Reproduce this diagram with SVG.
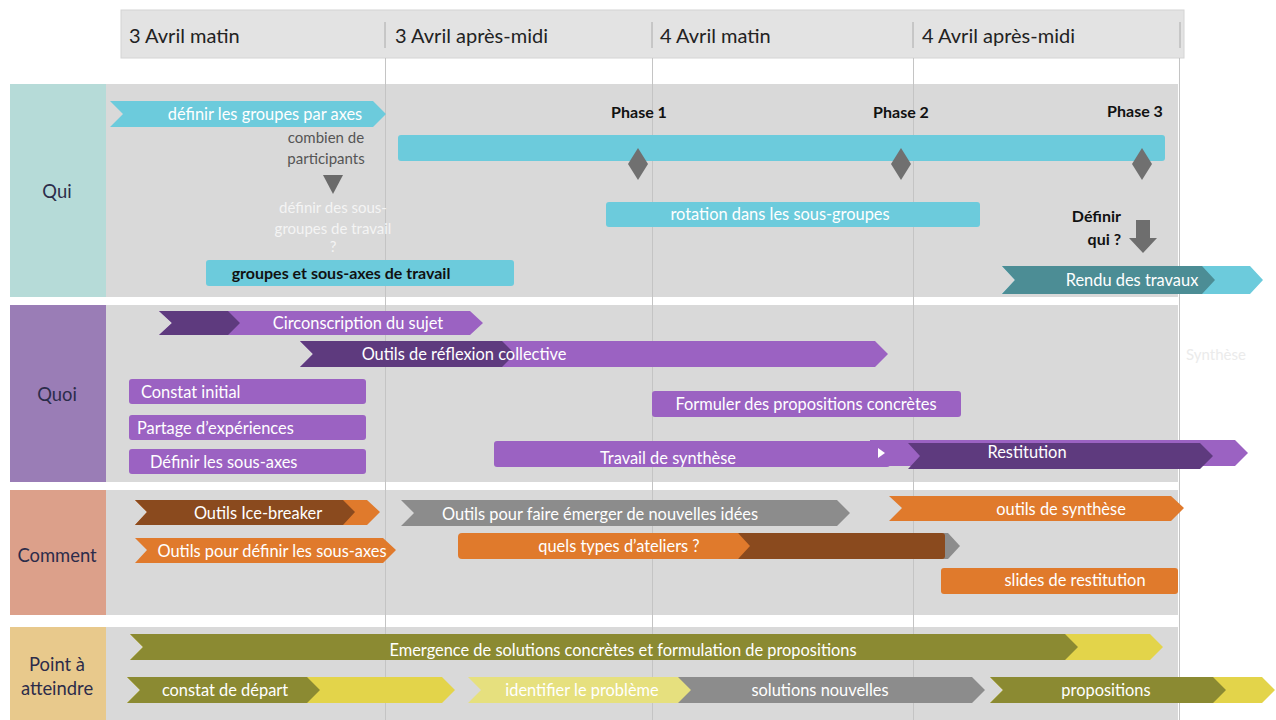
<svg xmlns="http://www.w3.org/2000/svg" width="1276" height="720" viewBox="0 0 1276 720">
<style>
text{font-family:Lato,"Liberation Sans",sans-serif;}
.hd{font-size:20px;fill:#222;}
.lb{font-size:18.4px;fill:#2c2c4a;text-anchor:middle;}
.w{font-size:16.4px;fill:#fff;text-anchor:middle;}
.wl{font-size:16.4px;fill:#fff;}
.bk{font-size:16px;fill:#111;font-weight:bold;text-anchor:middle;}
.ph{font-size:16px;fill:#111;font-weight:bold;text-anchor:middle;}
.dg{font-size:15px;fill:#555;text-anchor:middle;}
.ft{font-size:15px;fill:#f4f4f4;text-anchor:middle;}
.row{fill:#d9d9d9;}
.vl{stroke:#c4c4c4;stroke-width:1;}
.teal{fill:#6ccbdc;}
.dteal{fill:#4c8d95;}
.lp{fill:#9b62c2;}
.dp{fill:#5e3a7e;}
.or{fill:#e07a2c;}
.br{fill:#8a4a1e;}
.gr{fill:#8c8c8c;}
.ol{fill:#8b8a32;}
.ye{fill:#e3d44a;}
.ly{fill:#e6e07e;}
.dia{fill:#707070;}
</style>
<rect width="1276" height="720" fill="#fff"/>
<g id="header">
<rect x="121" y="10" width="1063" height="48" fill="#e3e3e3" stroke="#d4d4d4"/>
<g stroke="#aaa"><line x1="385" y1="22" x2="385" y2="48"/><line x1="652" y1="22" x2="652" y2="48"/><line x1="913" y1="22" x2="913" y2="48"/><line x1="1180" y1="22" x2="1180" y2="48"/></g>
<text class="hd" x="129" y="43">3 Avril matin</text>
<text class="hd" x="395" y="43">3 Avril après-midi</text>
<text class="hd" x="660" y="43">4 Avril matin</text>
<text class="hd" x="922" y="43">4 Avril après-midi</text>
</g>
<g id="rows">
<rect class="row" x="106" y="84" width="1072" height="213"/>
<rect class="row" x="106" y="305" width="1072" height="177"/>
<rect class="row" x="106" y="490" width="1072" height="125"/>
<rect class="row" x="106" y="627" width="1072" height="93"/>
<rect x="10" y="84" width="96" height="213" fill="#b6dbd8"/>
<rect x="10" y="305" width="96" height="177" fill="#9a7db6"/>
<rect x="10" y="490" width="96" height="125" fill="#dca08a"/>
<rect x="10" y="627" width="96" height="93" fill="#e8c98c"/>
<text class="lb" x="57" y="198">Qui</text>
<text class="lb" x="57" y="401">Quoi</text>
<text class="lb" x="57" y="562">Comment</text>
<text class="lb" x="57" y="671">Point à</text>
<text class="lb" x="57" y="695">atteindre</text>
</g>
<g id="gridlines" class="vl">
<line x1="385.5" y1="58" x2="385.5" y2="720"/>
<line x1="652.5" y1="58" x2="652.5" y2="720"/>
<line x1="913.5" y1="58" x2="913.5" y2="720"/>
<line x1="1179.5" y1="58" x2="1179.5" y2="720"/>
</g>
<g id="connectors"></g>
<g id="qui">
<g id="n-definir-groupes"><path class="teal" d="M110,101 L373,101 L386,114 L373,127 L110,127 L123,114 Z"/><text class="w" x="265" y="120">définir les groupes par axes</text></g>
<g id="n-combien"><text class="dg" x="326" y="143">combien de</text><text class="dg" x="326" y="164">participants</text><path d="M323,175 L343,175 L333,194 Z" fill="#6a6a6a"/></g>
<g id="n-sousgroupes"><text class="ft" x="333" y="213">définir des sous-</text><text class="ft" x="333" y="234">groupes de travail</text><text class="ft" x="333" y="252">?</text></g>
<g id="n-groupes-sousaxes"><rect class="teal" x="206" y="260" width="308" height="26" rx="3"/><text class="bk" x="341" y="279">groupes  et sous-axes de travail</text></g>
<g id="n-phases"><rect class="teal" x="398" y="135" width="767" height="26" rx="3"/>
<path class="dia" d="M638,148 L648,164 L638,180 L628,164 Z"/>
<path class="dia" d="M901,148 L911,164 L901,180 L891,164 Z"/>
<path class="dia" d="M1142,148 L1152,164 L1142,180 L1132,164 Z"/>
<text class="ph" x="639" y="118">Phase 1</text><text class="ph" x="901" y="118">Phase 2</text><text class="ph" x="1135" y="117">Phase 3</text></g>
<g id="n-rotation"><rect class="teal" x="606" y="202" width="374" height="25" rx="3"/><text class="w" x="780" y="220">rotation dans les sous-groupes</text></g>
<g id="n-definir-qui"><text class="ph" x="1121" y="222" style="text-anchor:end">Définir</text><text class="ph" x="1121" y="245" style="text-anchor:end">qui ?</text><path d="M1136,220 L1150,220 L1150,238 L1157,238 L1143,253 L1129,238 L1136,238 Z" fill="#6e6e6e"/></g>
<g id="n-rendu"><path class="teal" d="M1002,266 L1250,266 L1263,280 L1250,294 L1002,294 L1015,280 Z"/><path class="dteal" d="M1002,266 L1202,266 L1215,280 L1202,294 L1002,294 L1015,280 Z"/><text class="w" x="1132" y="286">Rendu des travaux</text></g>
</g>
<g id="quoi">
<g id="n-circonscription"><path class="lp" d="M159,311 L470,311 L483,323 L470,335 L159,335 L172,323 Z"/><path class="dp" d="M159,311 L228,311 L240,323 L228,335 L159,335 L172,323 Z"/><text class="w" x="358" y="329">Circonscription du sujet</text></g>
<g id="n-outils-reflexion"><path class="lp" d="M300,341 L875,341 L888,354 L875,367 L300,367 L313,354 Z"/><path class="dp" d="M300,341 L502,341 L515,354 L502,367 L300,367 L313,354 Z"/><text class="w" x="464" y="360">Outils de réflexion collective</text></g>
<g id="n-constat"><rect class="lp" x="129" y="379" width="237" height="25" rx="3"/><text class="wl" x="141" y="398">Constat initial</text></g>
<g id="n-partage"><rect class="lp" x="129" y="415" width="237" height="25" rx="3"/><text class="wl" x="137" y="434">Partage d’expériences</text></g>
<g id="n-definir-sousaxes"><rect class="lp" x="129" y="449" width="237" height="25" rx="3"/><text class="wl" x="150" y="468">Définir les sous-axes</text></g>
<g id="n-formuler"><rect class="lp" x="652" y="391" width="309" height="26" rx="3"/><text class="w" x="806" y="410">Formuler des propositions concrètes</text></g>
<g id="n-travail"><rect class="lp" x="494" y="441" width="396" height="26" rx="3"/><path class="lp" d="M870,440 L1235,440 L1248,453 L1235,466 L870,466 Z"/><path d="M878,448 L885,453 L878,458 Z" fill="#fff"/><text class="w" x="668" y="464">Travail de synthèse</text></g>
<g id="n-restitution"><path class="dp" d="M908,443 L1200,443 L1213,456 L1200,469 L908,469 L920,456 Z"/><text class="w" x="1027" y="458">Restitution</text></g>
<g id="n-synthese"><text x="1216" y="360" style="font-size:15px;fill:#ebebeb;text-anchor:middle">Synthèse</text></g>
</g>
<g id="comment">
<g id="n-icebreaker"><path class="or" d="M135,500 L367,500 L380,512 L367,525 L135,525 L147,512 Z"/><path class="br" d="M135,500 L343,500 L355,512 L343,525 L135,525 L147,512 Z"/><text class="w" x="258" y="519">Outils Ice-breaker</text></g>
<g id="n-outils-sousaxes"><path class="or" d="M135,538 L383,538 L396,550 L383,563 L135,563 L147,550 Z"/><text class="w" x="272" y="557">Outils pour définir les sous-axes</text></g>
<g id="n-emerger"><path class="gr" d="M401,500 L837,500 L850,513 L837,526 L401,526 L414,513 Z"/><text class="w" x="600" y="520">Outils pour faire émerger de nouvelles idées</text></g>
<g id="n-ateliers"><path class="gr" d="M740,533 L948,533 L960,546 L948,559 L740,559 Z"/><rect class="br" x="736" y="533" width="209" height="26" rx="3"/><path class="or" d="M462,533 L738,533 L750,546 L738,559 L462,559 Q458,559 458,555 L458,537 Q458,533 462,533 Z"/><text class="w" x="619" y="552">quels types d’ateliers ?</text></g>
<g id="n-outils-synthese"><path class="or" d="M889,496 L1171,496 L1184,508 L1171,521 L889,521 L902,508 Z"/><text class="w" x="1061" y="515">outils de synthèse</text></g>
<g id="n-slides"><rect class="or" x="941" y="568" width="237" height="26" rx="3"/><text class="w" x="1075" y="586">slides de restitution</text></g>
</g>
<g id="point">
<g id="n-emergence"><path class="ye" d="M130,634 L1150,634 L1163,647 L1150,660 L130,660 L143,647 Z"/><path class="ol" d="M130,634 L1065,634 L1078,647 L1065,660 L130,660 L143,647 Z"/><text class="w" x="623" y="656">Emergence de solutions concrètes et formulation de propositions</text></g>
<g id="n-constat-depart"><path class="ye" d="M127,677 L442,677 L455,690 L442,703 L127,703 L140,690 Z"/><path class="ol" d="M127,677 L307,677 L320,690 L307,703 L127,703 L140,690 Z"/><text class="w" x="225" y="696">constat de départ</text></g>
<g id="n-solutions"><path class="gr" d="M677,677 L972,677 L985,690 L972,703 L677,703 L690,690 Z"/><text class="w" x="820" y="696">solutions nouvelles</text></g>
<g id="n-identifier"><path class="ly" d="M468,677 L678,677 L691,690 L678,703 L468,703 L481,690 Z"/><text class="w" x="582" y="696">identifier le problème</text></g>
<g id="n-propositions"><path class="ye" d="M990,677 L1262,677 L1275,690 L1262,703 L990,703 L1003,690 Z"/><path class="ol" d="M990,677 L1213,677 L1226,690 L1213,703 L990,703 L1003,690 Z"/><text class="w" x="1106" y="696">propositions</text></g>
</g>
</svg>
